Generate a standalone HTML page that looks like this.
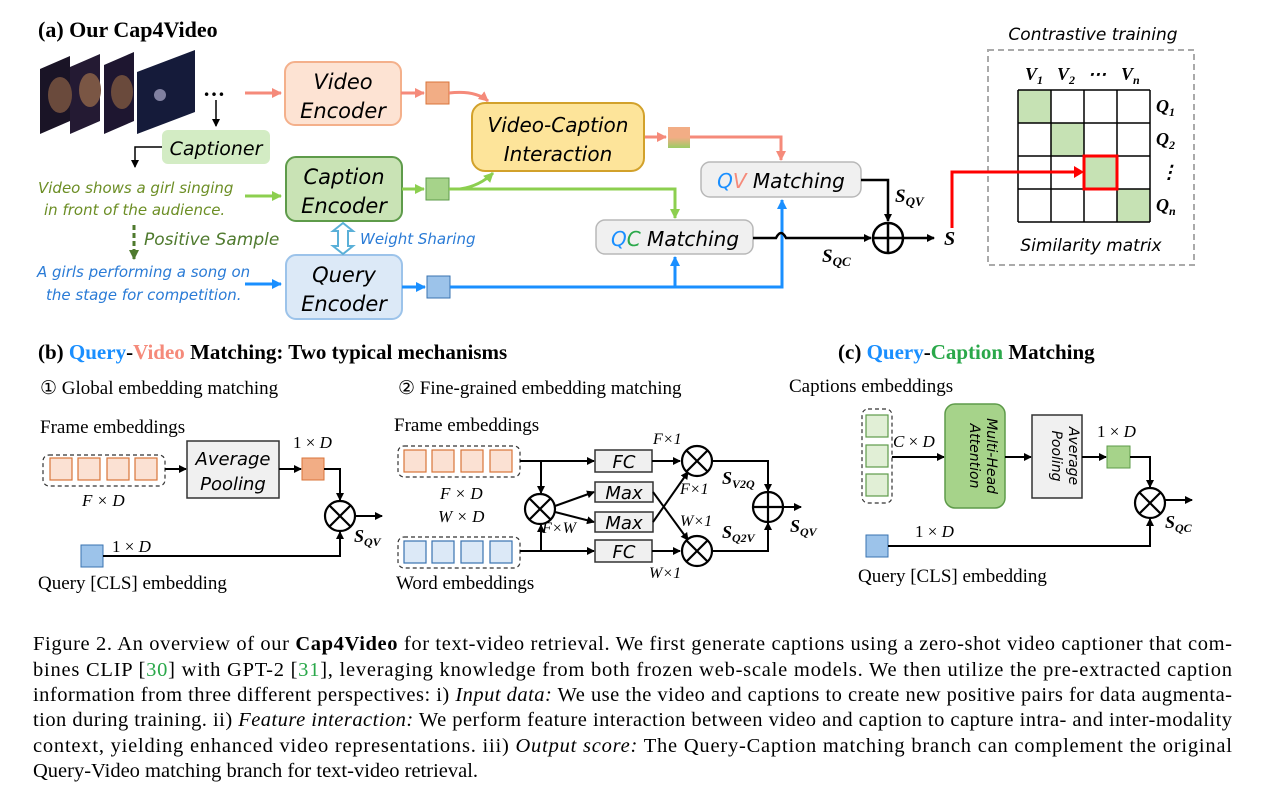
<!DOCTYPE html>
<html><head><meta charset="utf-8"><style>
body{margin:0;background:#fff;}
svg{display:block;}
.s{font-family:"Liberation Serif",serif;}
.a{font-family:"DejaVu Sans","Liberation Sans",sans-serif;font-style:italic;}
</style></head><body>
<svg width="1264" height="808" viewBox="0 0 1264 808" xmlns="http://www.w3.org/2000/svg">
<defs>
<marker id="ak" markerWidth="8" markerHeight="8" refX="7" refY="4" orient="auto" markerUnits="userSpaceOnUse"><path d="M0,0 L8,4 L0,8 z" fill="#000"/></marker>
<marker id="ar" markerWidth="10" markerHeight="10" refX="9" refY="5" orient="auto" markerUnits="userSpaceOnUse"><path d="M0,0 L10,5 L0,10 z" fill="#f58a7a"/></marker>
<marker id="ag" markerWidth="10" markerHeight="10" refX="9" refY="5" orient="auto" markerUnits="userSpaceOnUse"><path d="M0,0 L10,5 L0,10 z" fill="#8ccf4f"/></marker>
<marker id="ab" markerWidth="10" markerHeight="10" refX="9" refY="5" orient="auto" markerUnits="userSpaceOnUse"><path d="M0,0 L10,5 L0,10 z" fill="#1a8fff"/></marker>
<marker id="adg" markerWidth="10" markerHeight="10" refX="9" refY="5" orient="auto" markerUnits="userSpaceOnUse"><path d="M0,0 L10,5 L0,10 z" fill="#4f7a2e"/></marker>
<linearGradient id="og" x1="0" y1="0" x2="0" y2="1"><stop offset="0.5" stop-color="#f2ad85"/><stop offset="1" stop-color="#9ccc65"/></linearGradient>
</defs>

<!-- (a) -->
<text x="38" y="37" class="s" font-size="22" font-weight="bold">(a) Our Cap4Video</text>
<g>
<polygon points="40,134 70,121 70,56 40,69" fill="#1a1426"/>
<polygon points="70,134 100,121 100,54 70,67" fill="#241a33"/>
<polygon points="104,134 134,121 134,52 104,65" fill="#1e1630"/>
<polygon points="137,134 195,112 195,50 137,72" fill="#151b3a"/>
<ellipse cx="60" cy="95" rx="12" ry="18" fill="#6a4a3c"/>
<ellipse cx="90" cy="90" rx="11" ry="17" fill="#7a5644"/>
<ellipse cx="122" cy="92" rx="11" ry="17" fill="#6a4a3c"/>
<circle cx="160" cy="95" r="6" fill="#8080a0"/>
</g>
<text x="203" y="96" font-size="22" font-weight="bold" class="s">…</text>
<line x1="216" y1="100" x2="216" y2="126" stroke="#000" stroke-width="1.5" marker-end="url(#ak)"/>
<rect x="162" y="130" width="108" height="34" rx="6" fill="#d3ecc4"/>
<text x="216" y="155" text-anchor="middle" class="a" font-size="19">Captioner</text>
<polyline points="162,147 135,147 135,167" fill="none" stroke="#000" stroke-width="1.5" marker-end="url(#ak)"/>
<text x="38" y="193" class="a" font-size="15" fill="#6c8e25">Video shows a girl singing</text>
<text x="44" y="215" class="a" font-size="15" fill="#6c8e25">in front of the audience.</text>
<line x1="134" y1="225" x2="134" y2="259" stroke="#4f7a2e" stroke-width="3" stroke-dasharray="5,3" marker-end="url(#adg)"/>
<text x="144" y="245" class="a" font-size="17" fill="#4f7a2e">Positive Sample</text>
<text x="37" y="277" class="a" font-size="15" fill="#2a7bd6">A girls performing a song on</text>
<text x="46" y="300" class="a" font-size="15" fill="#2a7bd6">the stage for competition.</text>

<line x1="245" y1="93" x2="281" y2="93" stroke="#f58a7a" stroke-width="3" marker-end="url(#ar)"/>
<line x1="245" y1="196" x2="281" y2="196" stroke="#8ccf4f" stroke-width="3" marker-end="url(#ag)"/>
<line x1="245" y1="284" x2="281" y2="284" stroke="#1a8fff" stroke-width="3" marker-end="url(#ab)"/>

<rect x="285" y="62" width="116" height="63" rx="10" fill="#fde3d3" stroke="#f4b08b" stroke-width="2"/>
<text x="343" y="89" text-anchor="middle" class="a" font-size="21">Video</text>
<text x="343" y="118" text-anchor="middle" class="a" font-size="21">Encoder</text>
<rect x="286" y="157" width="116" height="64" rx="10" fill="#c9e3b5" stroke="#5e9b4a" stroke-width="2"/>
<text x="344" y="184" text-anchor="middle" class="a" font-size="21">Caption</text>
<text x="344" y="213" text-anchor="middle" class="a" font-size="21">Encoder</text>
<rect x="286" y="255" width="116" height="64" rx="10" fill="#dce9f7" stroke="#9cc3ea" stroke-width="2"/>
<text x="344" y="282" text-anchor="middle" class="a" font-size="21">Query</text>
<text x="344" y="311" text-anchor="middle" class="a" font-size="21">Encoder</text>

<path d="M343,223 L333,231 L338,231 L338,246 L333,246 L343,254 L353,246 L348,246 L348,231 L353,231 Z" fill="#fff" stroke="#5ab0d8" stroke-width="2"/>
<text x="360" y="244" class="a" font-size="15" fill="#2a7bd6">Weight Sharing</text>

<line x1="401" y1="93" x2="424" y2="93" stroke="#f58a7a" stroke-width="3" marker-end="url(#ar)"/>
<rect x="426" y="82" width="23" height="22" fill="#f2ad85" stroke="#d9743a" stroke-width="1"/>
<line x1="402" y1="189" x2="424" y2="189" stroke="#8ccf4f" stroke-width="3" marker-end="url(#ag)"/>
<rect x="426" y="178" width="23" height="22" fill="#a6d38a" stroke="#5e9b4a" stroke-width="1"/>
<line x1="402" y1="287" x2="425" y2="287" stroke="#1a8fff" stroke-width="3" marker-end="url(#ab)"/>
<rect x="427" y="276" width="23" height="22" fill="#9cc3ea" stroke="#3a73b0" stroke-width="1"/>

<path d="M449,93 Q475,90 488,101" fill="none" stroke="#f58a7a" stroke-width="3" marker-end="url(#ar)"/>
<path d="M449,189 L675,189 L675,218" fill="none" stroke="#8ccf4f" stroke-width="3" marker-end="url(#ag)"/>
<path d="M460,189 Q480,186 493,173" fill="none" stroke="#8ccf4f" stroke-width="3" marker-end="url(#ag)"/>

<rect x="472" y="103" width="172" height="68" rx="13" fill="#fde49a" stroke="#d2a12b" stroke-width="2"/>
<text x="558" y="132" text-anchor="middle" class="a" font-size="20">Video-Caption</text>
<text x="558" y="161" text-anchor="middle" class="a" font-size="20">Interaction</text>

<line x1="645" y1="137" x2="666" y2="137" stroke="#f58a7a" stroke-width="3" marker-end="url(#ar)"/>
<rect x="668" y="127" width="22" height="21" fill="url(#og)"/>
<path d="M690,137 L781,137 L781,160" fill="none" stroke="#f58a7a" stroke-width="3" marker-end="url(#ar)"/>

<rect x="701" y="162" width="160" height="35" rx="9" fill="#f0f0f0" stroke="#b8b8b8" stroke-width="1.5"/>
<text x="781" y="188" text-anchor="middle" class="a" font-size="20"><tspan fill="#1a8fff">Q</tspan><tspan fill="#f58a7a">V</tspan> Matching</text>
<rect x="596" y="220" width="157" height="34" rx="9" fill="#f0f0f0" stroke="#b8b8b8" stroke-width="1.5"/>
<text x="675" y="246" text-anchor="middle" class="a" font-size="20"><tspan fill="#1a8fff">Q</tspan><tspan fill="#2aa84a">C</tspan> Matching</text>

<path d="M450,287 L782,287 L782,200" fill="none" stroke="#1a8fff" stroke-width="3" marker-end="url(#ab)"/>
<path d="M675,287 L675,257" fill="none" stroke="#1a8fff" stroke-width="3" marker-end="url(#ab)"/>

<path d="M753,238 L776,238 Q781,228 786,238 L871,238" fill="none" stroke="#000" stroke-width="2.5" marker-end="url(#ak)"/>
<path d="M861,180 L888,180 L888,221" fill="none" stroke="#000" stroke-width="2.5" marker-end="url(#ak)"/>
<circle cx="888" cy="238" r="15" fill="#fff" stroke="#000" stroke-width="2.5"/>
<line x1="873" y1="238" x2="903" y2="238" stroke="#000" stroke-width="2.5"/>
<line x1="888" y1="223" x2="888" y2="253" stroke="#000" stroke-width="2.5"/>
<line x1="903" y1="238" x2="934" y2="238" stroke="#000" stroke-width="2.5" marker-end="url(#ak)"/>
<text x="895" y="202" class="s" font-size="19" font-weight="bold" font-style="italic">S<tspan font-size="13" dy="4">QV</tspan></text>
<text x="822" y="262" class="s" font-size="19" font-weight="bold" font-style="italic">S<tspan font-size="13" dy="4">QC</tspan></text>
<text x="944" y="245" class="s" font-size="20" font-weight="bold" font-style="italic">S</text>

<!-- contrastive -->
<text x="1093" y="40" text-anchor="middle" class="a" font-size="17">Contrastive training</text>
<rect x="988" y="50" width="206" height="215" fill="none" stroke="#aaa" stroke-width="2" stroke-dasharray="6,4"/>
<g fill="#c6e2b4"><rect x="1018" y="90" width="33" height="33"/><rect x="1051" y="123" width="33" height="33"/><rect x="1084" y="156" width="33" height="33"/><rect x="1117" y="189" width="33" height="33"/></g>
<g stroke="#000" stroke-width="1.5">
<line x1="1018" y1="90" x2="1150" y2="90"/><line x1="1018" y1="123" x2="1150" y2="123"/><line x1="1018" y1="156" x2="1150" y2="156"/><line x1="1018" y1="189" x2="1150" y2="189"/><line x1="1018" y1="222" x2="1150" y2="222"/>
<line x1="1018" y1="90" x2="1018" y2="222"/><line x1="1051" y1="90" x2="1051" y2="222"/><line x1="1084" y1="90" x2="1084" y2="222"/><line x1="1117" y1="90" x2="1117" y2="222"/><line x1="1150" y1="90" x2="1150" y2="222"/>
</g>
<rect x="1084" y="156" width="33" height="33" fill="none" stroke="#f00" stroke-width="3"/>
<polyline points="952,228 952,172 1080,172" fill="none" stroke="#f00" stroke-width="3"/>
<path d="M1084,172 L1074,166 L1074,178 z" fill="#f00"/>
<g class="s" font-size="18" font-weight="bold" font-style="italic">
<text x="1025" y="80">V<tspan font-size="12" dy="4">1</tspan></text>
<text x="1057" y="80">V<tspan font-size="12" dy="4">2</tspan></text>
<text x="1088" y="80">⋯</text>
<text x="1121" y="80">V<tspan font-size="12" dy="4">n</tspan></text>
<text x="1156" y="112">Q<tspan font-size="12" dy="4">1</tspan></text>
<text x="1156" y="145">Q<tspan font-size="12" dy="4">2</tspan></text>
<text x="1160" y="178">⋮</text>
<text x="1156" y="211">Q<tspan font-size="12" dy="4">n</tspan></text>
</g>
<text x="1091" y="251" text-anchor="middle" class="a" font-size="17">Similarity matrix</text>

<!-- (b) -->
<text x="38" y="359" class="s" font-size="21" font-weight="bold">(b) <tspan fill="#1a8fff">Query</tspan>-<tspan fill="#f58a7a">Video</tspan> Matching: Two typical mechanisms</text>
<text x="40" y="394" class="s" font-size="19">① Global embedding matching</text>
<text x="40" y="433" class="s" font-size="19">Frame embeddings</text>
<rect x="43" y="455" width="122" height="31" rx="6" fill="none" stroke="#333" stroke-width="1.2" stroke-dasharray="4,3"/>
<g fill="#fbe1d3" stroke="#d9743a" stroke-width="1.2"><rect x="50" y="458" width="22" height="22"/><rect x="78" y="458" width="22" height="22"/><rect x="107" y="458" width="22" height="22"/><rect x="135" y="458" width="22" height="22"/></g>
<text x="82" y="506" class="s" font-size="17" font-style="italic">F × D</text>
<line x1="165" y1="469" x2="186" y2="469" stroke="#000" stroke-width="2" marker-end="url(#ak)"/>
<rect x="187" y="441" width="92" height="57" fill="#f0f0f0" stroke="#333" stroke-width="1.5"/>
<text x="233" y="465" text-anchor="middle" class="a" font-size="18">Average</text>
<text x="233" y="490" text-anchor="middle" class="a" font-size="18">Pooling</text>
<line x1="279" y1="469" x2="301" y2="469" stroke="#000" stroke-width="2" marker-end="url(#ak)"/>
<rect x="302" y="458" width="22" height="22" fill="#f2ad85" stroke="#d9743a"/>
<text x="293" y="448" class="s" font-size="17">1 × <tspan font-style="italic">D</tspan></text>
<path d="M324,469 L340,469 L340,500" fill="none" stroke="#000" stroke-width="2" marker-end="url(#ak)"/>
<rect x="81" y="545" width="22" height="22" fill="#9cc3ea" stroke="#3a73b0"/>
<text x="112" y="552" class="s" font-size="17">1 × <tspan font-style="italic">D</tspan></text>
<path d="M103,556 L340,556 L340,532" fill="none" stroke="#000" stroke-width="2" marker-end="url(#ak)"/>
<g stroke="#000" stroke-width="2.2" fill="#fff"><circle cx="340" cy="516" r="15"/><line x1="329" y1="505" x2="351" y2="527"/><line x1="351" y1="505" x2="329" y2="527"/></g>
<line x1="355" y1="516" x2="382" y2="516" stroke="#000" stroke-width="2" marker-end="url(#ak)"/>
<text x="354" y="542" class="s" font-size="18" font-weight="bold" font-style="italic">S<tspan font-size="12" dy="4">QV</tspan></text>
<text x="38" y="589" class="s" font-size="19">Query [CLS] embedding</text>

<!-- fine-grained -->
<text x="398" y="394" class="s" font-size="19">② Fine-grained embedding matching</text>
<text x="394" y="431" class="s" font-size="19">Frame embeddings</text>
<rect x="398" y="446" width="122" height="31" rx="6" fill="none" stroke="#333" stroke-width="1.2" stroke-dasharray="4,3"/>
<g fill="#fbe1d3" stroke="#d9743a" stroke-width="1.2"><rect x="404" y="450" width="22" height="22"/><rect x="432" y="450" width="22" height="22"/><rect x="461" y="450" width="22" height="22"/><rect x="490" y="450" width="22" height="22"/></g>
<rect x="398" y="537" width="122" height="31" rx="6" fill="none" stroke="#333" stroke-width="1.2" stroke-dasharray="4,3"/>
<g fill="#dce9f7" stroke="#3a73b0" stroke-width="1.2"><rect x="404" y="541" width="22" height="22"/><rect x="432" y="541" width="22" height="22"/><rect x="461" y="541" width="22" height="22"/><rect x="490" y="541" width="22" height="22"/></g>
<text x="440" y="499" class="s" font-size="17" font-style="italic">F × D</text>
<text x="438" y="522" class="s" font-size="17" font-style="italic">W × D</text>
<text x="396" y="589" class="s" font-size="19">Word embeddings</text>
<line x1="520" y1="461" x2="594" y2="461" stroke="#000" stroke-width="2" marker-end="url(#ak)"/>
<line x1="541" y1="461" x2="541" y2="493" stroke="#000" stroke-width="2" marker-end="url(#ak)"/>
<line x1="520" y1="551" x2="594" y2="551" stroke="#000" stroke-width="2" marker-end="url(#ak)"/>
<line x1="541" y1="551" x2="541" y2="525" stroke="#000" stroke-width="2" marker-end="url(#ak)"/>
<g stroke="#000" stroke-width="2.2" fill="#fff"><circle cx="540" cy="509" r="15"/><line x1="529" y1="498" x2="551" y2="520"/><line x1="551" y1="498" x2="529" y2="520"/></g>
<line x1="555" y1="506" x2="594" y2="492" stroke="#000" stroke-width="2" marker-end="url(#ak)"/>
<line x1="555" y1="512" x2="594" y2="522" stroke="#000" stroke-width="2" marker-end="url(#ak)"/>
<text x="542" y="533" class="s" font-size="16" font-style="italic">F×W</text>
<g fill="#f0f0f0" stroke="#333" stroke-width="1.5"><rect x="595" y="450" width="57" height="22"/><rect x="595" y="482" width="58" height="20"/><rect x="595" y="512" width="58" height="20"/><rect x="595" y="540" width="57" height="22"/></g>
<g class="a" font-size="18" text-anchor="middle"><text x="624" y="468">FC</text><text x="624" y="499">Max</text><text x="624" y="529">Max</text><text x="624" y="558">FC</text></g>
<line x1="652" y1="461" x2="680" y2="461" stroke="#000" stroke-width="2" marker-end="url(#ak)"/>
<line x1="652" y1="551" x2="680" y2="551" stroke="#000" stroke-width="2" marker-end="url(#ak)"/>
<line x1="653" y1="492" x2="688" y2="540" stroke="#000" stroke-width="2" marker-end="url(#ak)"/>
<line x1="653" y1="522" x2="688" y2="472" stroke="#000" stroke-width="2" marker-end="url(#ak)"/>
<g stroke="#000" stroke-width="2.2" fill="#fff"><circle cx="697" cy="461" r="15"/><line x1="686" y1="450" x2="708" y2="472"/><line x1="708" y1="450" x2="686" y2="472"/><circle cx="697" cy="551" r="15"/><line x1="686" y1="540" x2="708" y2="562"/><line x1="708" y1="540" x2="686" y2="562"/></g>
<g class="s" font-size="16" font-style="italic"><text x="653" y="444">F×1</text><text x="680" y="494">F×1</text><text x="680" y="526">W×1</text><text x="649" y="578">W×1</text></g>
<path d="M712,461 L768,461 L768,491" fill="none" stroke="#000" stroke-width="2" marker-end="url(#ak)"/>
<path d="M712,551 L768,551 L768,523" fill="none" stroke="#000" stroke-width="2" marker-end="url(#ak)"/>
<g stroke="#000" stroke-width="2.2" fill="#fff"><circle cx="768" cy="507" r="15"/><line x1="753" y1="507" x2="783" y2="507"/><line x1="768" y1="492" x2="768" y2="522"/></g>
<line x1="783" y1="507" x2="801" y2="507" stroke="#000" stroke-width="2" marker-end="url(#ak)"/>
<text x="722" y="484" class="s" font-size="18" font-weight="bold" font-style="italic">S<tspan font-size="12" dy="4">V2Q</tspan></text>
<text x="722" y="538" class="s" font-size="18" font-weight="bold" font-style="italic">S<tspan font-size="12" dy="4">Q2V</tspan></text>
<text x="790" y="532" class="s" font-size="18" font-weight="bold" font-style="italic">S<tspan font-size="12" dy="4">QV</tspan></text>

<!-- (c) -->
<text x="838" y="359" class="s" font-size="21" font-weight="bold">(c) <tspan fill="#1a8fff">Query</tspan>-<tspan fill="#2aa84a">Caption</tspan> Matching</text>
<text x="789" y="392" class="s" font-size="19">Captions embeddings</text>
<rect x="862" y="409" width="30" height="94" rx="6" fill="none" stroke="#333" stroke-width="1.2" stroke-dasharray="4,3"/>
<g fill="#e1efd6" stroke="#5e9b4a" stroke-width="1.2"><rect x="866" y="415" width="22" height="22"/><rect x="866" y="445" width="22" height="22"/><rect x="866" y="474" width="22" height="22"/></g>
<text x="893" y="447" class="s" font-size="17" font-style="italic">C <tspan font-style="normal">×</tspan> D</text>
<line x1="892" y1="457" x2="944" y2="457" stroke="#000" stroke-width="2" marker-end="url(#ak)"/>
<rect x="945" y="404" width="60" height="104" rx="10" fill="#a6d38a" stroke="#5e9b4a" stroke-width="1.5"/>
<text transform="translate(975,456) rotate(90)" text-anchor="middle" class="a" font-size="14"><tspan x="0" y="-12">Multi-Head</tspan><tspan x="0" y="5">Attention</tspan></text>
<line x1="1005" y1="457" x2="1031" y2="457" stroke="#000" stroke-width="2" marker-end="url(#ak)"/>
<rect x="1032" y="415" width="50" height="83" fill="#f0f0f0" stroke="#333" stroke-width="1.5"/>
<text transform="translate(1057,456) rotate(90)" text-anchor="middle" class="a" font-size="14"><tspan x="0" y="-12">Average</tspan><tspan x="0" y="5">Pooling</tspan></text>
<line x1="1082" y1="457" x2="1106" y2="457" stroke="#000" stroke-width="2" marker-end="url(#ak)"/>
<rect x="1107" y="446" width="23" height="22" fill="#a6d38a" stroke="#5e9b4a"/>
<text x="1097" y="437" class="s" font-size="17">1 × <tspan font-style="italic">D</tspan></text>
<path d="M1130,457 L1150,457 L1150,487" fill="none" stroke="#000" stroke-width="2" marker-end="url(#ak)"/>
<rect x="866" y="535" width="22" height="22" fill="#9cc3ea" stroke="#3a73b0"/>
<text x="915" y="537" class="s" font-size="17">1 × <tspan font-style="italic">D</tspan></text>
<path d="M888,546 L1150,546 L1150,519" fill="none" stroke="#000" stroke-width="2" marker-end="url(#ak)"/>
<g stroke="#000" stroke-width="2.2" fill="#fff"><circle cx="1150" cy="503" r="15"/><line x1="1139" y1="492" x2="1161" y2="514"/><line x1="1161" y1="492" x2="1139" y2="514"/></g>
<line x1="1165" y1="500" x2="1192" y2="500" stroke="#000" stroke-width="2" marker-end="url(#ak)"/>
<text x="1165" y="528" class="s" font-size="18" font-weight="bold" font-style="italic">S<tspan font-size="12" dy="4">QC</tspan></text>
<text x="858" y="582" class="s" font-size="19">Query [CLS] embedding</text>

<!-- caption -->
<g class="s" font-size="20.5">
<text x="33" y="650" textLength="1199" lengthAdjust="spacing">Figure 2. An overview of our <tspan font-weight="bold">Cap4Video</tspan> for text-video retrieval. We first generate captions using a zero-shot video captioner that com-</text>
<text x="33" y="676" textLength="1199" lengthAdjust="spacing">bines CLIP [<tspan fill="#2aa84a">30</tspan>] with GPT-2 [<tspan fill="#2aa84a">31</tspan>], leveraging knowledge from both frozen web-scale models. We then utilize the pre-extracted caption</text>
<text x="33" y="701" textLength="1199" lengthAdjust="spacing">information from three different perspectives: i) <tspan font-style="italic">Input data:</tspan> We use the video and captions to create new positive pairs for data augmenta-</text>
<text x="33" y="726" textLength="1199" lengthAdjust="spacing">tion during training. ii) <tspan font-style="italic">Feature interaction:</tspan> We perform feature interaction between video and caption to capture intra- and inter-modality</text>
<text x="33" y="752" textLength="1199" lengthAdjust="spacing">context, yielding enhanced video representations. iii) <tspan font-style="italic">Output score:</tspan> The Query-Caption matching branch can complement the original</text>
<text x="33" y="777">Query-Video matching branch for text-video retrieval.</text>
</g>
</svg>
</body></html>
